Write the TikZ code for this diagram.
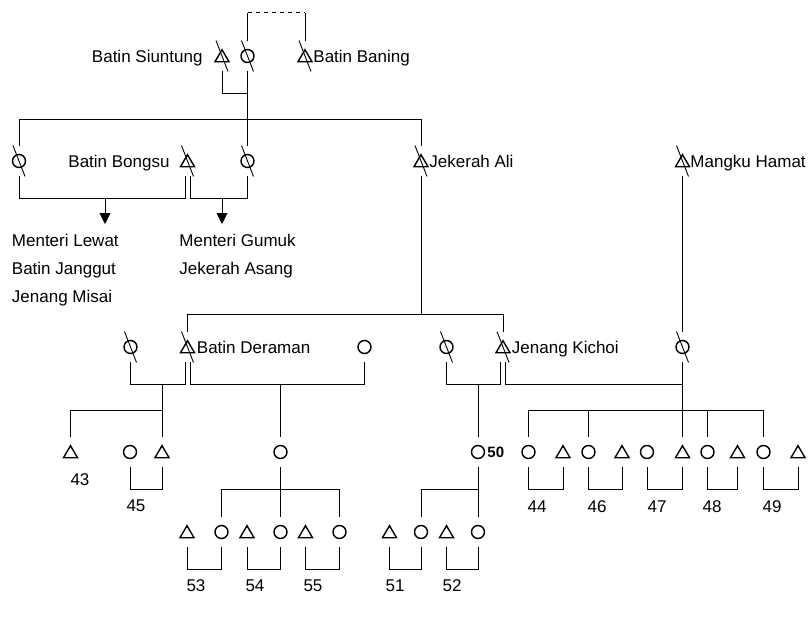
\documentclass[tikz,border=0pt]{standalone}
\usepackage{fontspec}
\setmainfont{Liberation Sans}
\usetikzlibrary{arrows.meta, positioning}

\begin{document}
\begin{tikzpicture}[
  x=1pt, y=-1pt, line width=0.9pt,
  every node/.style={font=\fontsize{17}{20}\selectfont},
  sym/.style={rectangle, inner sep=0pt, minimum width=18pt, minimum height=30pt},
  female/.style={sym, path picture={
      \draw[line width=1.4pt] (path picture bounding box.center) circle[radius=6.5pt];}},
  male/.style={sym, path picture={
      \draw[line width=1.4pt] ([yshift=6.3pt]path picture bounding box.center)
        -- ++(-7pt,-12pt) -- ++(14pt,0pt) -- cycle;}},
  txt/.style={inner sep=0pt, text height=12.2pt, text depth=0pt},
  arr/.style={-{Triangle[length=11pt, width=11pt]}},
]
  \useasboundingbox (0,0) rectangle (812,621);

  % people
  \node[male]   (siuntung)  at (222,56)    {};
  \node[female] (siuntungW) at (247.5,56)  {};
  \node[male]   (baning)    at (305,56)    {};

  \node[female] (dau1)    at (19,161)    {};
  \node[male]   (bongsu)  at (187.5,161) {};
  \node[female] (dau2)    at (247.5,161) {};
  \node[male]   (jekerah) at (421,161)   {};
  \node[male]   (mangku)  at (682.5,161) {};

  \node[female] (deramanW)  at (130.5,347) {};
  \node[male]   (deraman)   at (187.5,347) {};
  \node[female] (deramanW2) at (364.5,347) {};
  \node[female] (kichoiW)   at (446.5,347) {};
  \node[male]   (kichoi)    at (503,347)   {};
  \node[female] (hamatD)    at (682.5,347) {};

  \foreach \n/\s/\x in {c43/male/70.5, w45/female/130, c45/male/162,
      dauDer/female/280.5, c50/female/478, c44/female/528.5, h44/male/563,
      c46/female/588.5, h46/male/622, w47/female/647, c47/male/682.5,
      c48/female/707.5, h48/male/737.5, c49/female/763.5, h49/male/798}
    \node[\s] (\n) at (\x,452) {};

  \foreach \n/\s/\x in {h53/male/187, c53/female/221.5, h54/male/247,
      c54/female/280.5, h55/male/305.5, c55/female/339.5, h51/male/389.5,
      c51/female/421, h52/male/446.5, c52/female/478}
    \node[\s] (\n) at (\x,532) {};

  % deceased
  \foreach \n in {siuntung, siuntungW, baning, dau1, bongsu, dau2, jekerah,
      mangku, deramanW, deraman, kichoiW, kichoi, hamatD}
    \draw ([xshift=-6pt]\n.north) -- ([xshift=6pt]\n.south);

  % names
  \node[txt, left=19pt of siuntung.center]  (lSiuntung) {Batin Siuntung};
  \node[txt, right=8pt of baning.center]    (lBaning)   {Batin Baning};
  \node[txt, left=17.5pt of bongsu.center]  (lBongsu)   {Batin Bongsu};
  \node[txt, right=8pt of jekerah.center]   (lJekerah)  {Jekerah Ali};
  \node[txt, right=7.5pt of mangku.center]  (lMangku)   {Mangku Hamat};
  \node[txt, right=9pt of deraman.center]   (lDeraman)  {Batin Deraman};
  \node[txt, right=8.5pt of kichoi.center]  (lKichoi)   {Jenang Kichoi};
  \node[txt, text height=10.7pt, font=\fontsize{15}{18}\selectfont\bfseries,
        right=9pt of c50.center] (n50) {50};

  % dashed link
  \draw (siuntungW.north) -- ++(0,-28) coordinate (lnk);
  \draw[dash pattern=on 4pt off 4pt] (lnk) -- (lnk -| baning);
  \draw (lnk -| baning) -- (baning.north);

  % marriages
  \foreach \a/\b in {siuntung/siuntungW, w45/c45, c44/h44, c46/h46, w47/c47,
      c48/h48, c49/h49, h53/c53, h54/c54, h55/c55, h51/c51, h52/c52}
    \draw (\a.south) -- ++(0,22) -| (\b.south);
  \foreach \wl/\h/\wr in {dau1/bongsu/dau2, deramanW/deraman/deramanW2,
      kichoiW/kichoi/hamatD} {
    \draw (\wl.south) -- ++(0,22) -| ([xshift=-2.5pt]\h.south);
    \draw ([xshift=2.5pt]\h.south) -- ++(0,22) -| (\wr.south);
  }

  % Batin Siuntung's children
  \draw (siuntungW.south) -- (siuntungW |- 0,119);
  \draw (dau1.north) |- (jekerah |- 0,119) -- (jekerah.north);
  \draw (dau2.north) -- (dau2 |- 0,119);

  % Batin Bongsu's children
  \coordinate (kidsL) at (105,224);
  \coordinate (kidsR) at (222,224);
  \draw[arr] (kidsL |- 0,198) -- (kidsL);
  \draw[arr] (kidsR |- 0,198) -- (kidsR);
  \node[txt, anchor=west] (lewat) at (11.5,240) {Menteri Lewat};
  \node[txt, below=15.3pt of lewat.south west, anchor=north west] (janggut) {Batin Janggut};
  \node[txt, below=15.3pt of janggut.south west, anchor=north west] (misai) {Jenang Misai};
  \node[txt, anchor=west] (gumuk) at (179,240) {Menteri Gumuk};
  \node[txt, below=15.3pt of gumuk.south west, anchor=north west] (asang) {Jekerah Asang};

  % Jekerah Ali's children
  \draw (jekerah.south) -- (jekerah |- 0,314);
  \draw (deraman.north) |- (kichoi |- 0,314) -- (kichoi.north);
  \draw (mangku.south) -- (hamatD.north);

  % Batin Deraman's children
  \draw (c45.north) -- (c45 |- 0,384);
  \draw (c43.north) |- (c45 |- 0,410);
  \draw (dauDer.north) -- (dauDer |- 0,384);

  % Jenang Kichoi's children
  \draw (c50.north) -- (c50 |- 0,384);
  \draw (hamatD.south) -- (c47.north);
  \draw (c44.north) |- (c49 |- 0,410) -- (c49.north);
  \foreach \c in {c46, c48}
    \draw (\c.north) -- (\c |- 0,410);

  % grandchildren
  \draw (dauDer.south) -- (c54.north);
  \draw (c53.north) |- (c55 |- 0,489) -- (c55.north);
  \draw (c50.south) -- (c52.north);
  \draw (c51.north) |- (c52 |- 0,489);

  % couple numbers
  \foreach \t/\x/\y in {43/80/479, 45/136/505, 44/537/506, 46/597/506,
      47/657/506, 48/712/506, 49/772/506, 53/196/585, 54/255/585,
      55/313/585, 51/395/585, 52/452/585}
    \node[txt] (n\t) at (\x,\y) {\t};
\end{tikzpicture}
\end{document}
